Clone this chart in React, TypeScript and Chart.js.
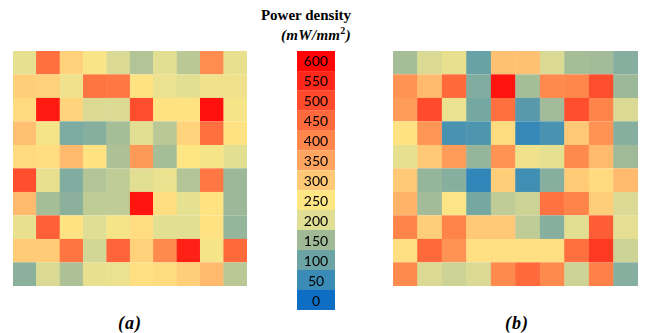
import React, { useEffect, useRef } from "react";
import { Chart, registerables } from "chart.js";

Chart.register(...registerables);

// Colour bar levels (mW/mm^2)
const levels = [0, 50, 100, 150, 200, 250, 300, 350, 400, 450, 500, 550, 600];
const levelColors = [
  [14, 110, 195],
  [58, 140, 182],
  [108, 164, 165],
  [160, 186, 152],
  [224, 222, 148],
  [255, 230, 132],
  [255, 200, 118],
  [255, 165, 95],
  [255, 135, 76],
  [255, 105, 60],
  [255, 75, 44],
  [255, 40, 26],
  [255, 6, 6],
];

// Grid (a): rows top to bottom, columns left to right
const gridA: number[][] = [
  [210, 440, 285, 240, 195, 165, 205, 170, 390, 215],
  [290, 285, 225, 430, 425, 255, 220, 205, 225, 225],
  [270, 570, 280, 195, 195, 495, 255, 255, 585, 235],
  [310, 235, 115, 125, 155, 205, 170, 280, 440, 255],
  [270, 265, 320, 255, 160, 370, 155, 250, 235, 205],
  [495, 215, 120, 165, 175, 205, 220, 165, 425, 145],
  [320, 155, 130, 175, 175, 580, 265, 210, 255, 145],
  [215, 465, 255, 200, 235, 265, 205, 205, 255, 140],
  [295, 295, 430, 190, 460, 285, 395, 560, 235, 450],
  [130, 195, 160, 215, 220, 262, 268, 290, 320, 170],
];

// Grid (b)
const gridB: number[][] = [
  [155, 195, 215, 95, 310, 310, 195, 155, 152, 125],
  [380, 320, 450, 120, 580, 155, 395, 400, 495, 145],
  [365, 500, 220, 110, 440, 80, 152, 495, 405, 195],
  [255, 375, 65, 70, 268, 45, 65, 300, 380, 125],
  [210, 300, 365, 140, 380, 225, 210, 395, 320, 150],
  [300, 140, 125, 40, 290, 55, 125, 295, 270, 320],
  [330, 152, 245, 110, 175, 185, 435, 405, 290, 195],
  [405, 290, 405, 300, 300, 175, 125, 205, 470, 207],
  [262, 450, 380, 262, 262, 262, 262, 440, 525, 185],
  [395, 195, 185, 195, 395, 450, 395, 185, 410, 125],
];

const colLabels = ["1", "2", "3", "4", "5", "6", "7", "8", "9", "10"];

function colorFor(v: number): string {
  const t = Math.max(0, Math.min(600, v)) / 50;
  const i = Math.min(11, Math.floor(t));
  const f = t - i;
  const a = levelColors[i];
  const b = levelColors[i + 1];
  const c = a.map((x, k) => Math.round(x + (b[k] - x) * f));
  return `rgb(${c[0]},${c[1]},${c[2]})`;
}

function Heatmap({ grid, left, width }: { grid: number[][]; left: number; width: number }) {
  const ref = useRef<HTMLCanvasElement>(null);
  useEffect(() => {
    const n = grid.length;
    const datasets = grid
      .map((row, r) => ({
        label: "row " + (r + 1),
        data: row.map(() => 1),
        backgroundColor: row.map((v) => colorFor(v)),
        borderColor: row.map((v) => colorFor(v)),
        borderWidth: 0.6,
        barPercentage: 1,
        categoryPercentage: 1,
      }))
      .reverse();
    const chart = new Chart(ref.current!, {
      type: "bar",
      data: { labels: colLabels, datasets },
      options: {
        animation: false,
        responsive: false,
        maintainAspectRatio: false,
        layout: { padding: 0 },
        plugins: { legend: { display: false }, tooltip: { enabled: false } },
        scales: {
          x: { stacked: true, display: false },
          y: { stacked: true, display: false, min: 0, max: n },
        },
      },
    });
    return () => chart.destroy();
  }, [grid]);
  return (
    <canvas
      ref={ref}
      width={width}
      height={235}
      style={{ position: "absolute", left, top: 51, width, height: 235 }}
    />
  );
}

function ColorBar() {
  const ref = useRef<HTMLCanvasElement>(null);
  useEffect(() => {
    const datasets = levels.map((lv) => ({
      label: String(lv),
      data: [1],
      backgroundColor: colorFor(lv),
      borderColor: colorFor(lv),
      borderWidth: 0.6,
      barPercentage: 1,
      categoryPercentage: 1,
    }));
    const labelPlugin = {
      id: "barLabels",
      afterDatasetsDraw(chart: any) {
        const ctx = chart.ctx;
        ctx.save();
        ctx.fillStyle = "#000";
        ctx.font = "14px Lato";
        ctx.textAlign = "center";
        ctx.textBaseline = "middle";
        chart.data.datasets.forEach((ds: any, i: number) => {
          const el = chart.getDatasetMeta(i).data[0];
          ctx.fillText(ds.label, el.x, (el.y + el.base) / 2 + 1);
        });
        ctx.restore();
      },
    };
    const chart = new Chart(ref.current!, {
      type: "bar",
      data: { labels: ["Power density"], datasets },
      options: {
        animation: false,
        responsive: false,
        maintainAspectRatio: false,
        layout: { padding: 0 },
        plugins: { legend: { display: false }, tooltip: { enabled: false } },
        scales: {
          x: { stacked: true, display: false },
          y: { stacked: true, display: false, min: 0, max: levels.length },
        },
      },
      plugins: [labelPlugin],
    });
    return () => chart.destroy();
  }, []);
  return (
    <canvas
      ref={ref}
      width={38}
      height={259}
      style={{ position: "absolute", left: 297, top: 51, width: 38, height: 259 }}
    />
  );
}

export default function App() {
  const serif = "'Liberation Serif', 'Times New Roman', serif";
  return (
    <div style={{ position: "absolute", left: 0, top: 0, width: 649, height: 333, background: "#fff", overflow: "hidden" }}>
      <Heatmap grid={gridA} left={13} width={234} />
      <Heatmap grid={gridB} left={393} width={245} />
      <ColorBar />
      <div style={{ position: "absolute", left: 206, width: 200, top: 5, textAlign: "center", fontFamily: serif, fontWeight: "bold", fontSize: 15, lineHeight: "20px" }}>
        Power density
      </div>
      <div style={{ position: "absolute", left: 216, width: 200, top: 25, textAlign: "center", fontFamily: serif, fontWeight: "bold", fontStyle: "italic", fontSize: 15, lineHeight: "20px", letterSpacing: 0.3 }}>
        (mW/mm<sup style={{ fontSize: 10, lineHeight: 0, fontStyle: "normal" }}>2</sup>)
      </div>
      <div style={{ position: "absolute", left: 100, width: 60, top: 313, textAlign: "center", fontFamily: serif, fontWeight: "bold", fontStyle: "italic", fontSize: 18, lineHeight: "20px", letterSpacing: 1 }}>
        (a)
      </div>
      <div style={{ position: "absolute", left: 487, width: 60, top: 313, textAlign: "center", fontFamily: serif, fontWeight: "bold", fontStyle: "italic", fontSize: 18, lineHeight: "20px", letterSpacing: 1 }}>
        (b)
      </div>
    </div>
  );
}
